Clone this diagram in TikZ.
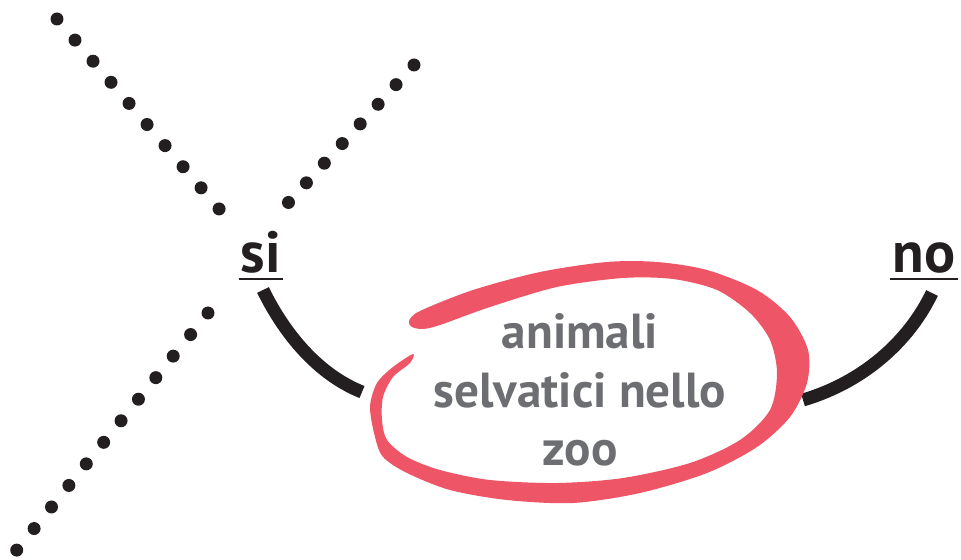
\documentclass[tikz,border=0pt]{standalone}
\usepackage{fontspec}
\setmainfont{PT Sans}
\usepackage{xcolor}
\usepackage{tikz}
\usetikzlibrary{positioning,calc}

\definecolor{zoored}{HTML}{EE5668}
\definecolor{zoogray}{HTML}{6D6E71}
\definecolor{ink}{HTML}{231F20}

\begin{document}
\begin{tikzpicture}[
    x=0.02cm, y=-0.02cm,
    dots/.style={ink, line width=0.26cm, line cap=round, dash pattern=on 0pt off #1},
    link/.style={ink, line width=0.26cm},
    answer/.style={font=\bfseries\fontsize{33}{36}\selectfont, text=ink, inner xsep=0.04cm, inner ysep=0pt, anchor=base},
    uline/.style={ink, line width=0.05cm},
    topic/.style={font=\bfseries\fontsize{28}{33.2}\selectfont, text=zoogray, align=center, inner sep=0pt}
]
\useasboundingbox (0,0) rectangle (961,560);

% Crossing out
\draw[dots=0.555cm] (57,19) -- (220,210);
\draw[dots=0.532cm] (414,65) -- (288,203);
\draw[dots=0.554cm] (208,313) -- (16,551);

% Labels
\node[answer] (si) at (261,273) {si};
\node[answer] (no) at (924,273) {no};
\draw[uline] ([yshift=-0.12cm]si.base west) -- ([yshift=-0.12cm]si.base east);
\draw[uline] ([yshift=-0.12cm]no.base west) -- ([yshift=-0.12cm]no.base east);

% Links
\coordinate (si-foot) at (263,290);
\coordinate (zoo-west) at (362,392);
\coordinate (no-foot) at (932,293);
\coordinate (zoo-east) at (803,400);
\draw[link] (si-foot) .. controls +(22,45) and +(-43,-17) .. (zoo-west);
\draw[link] (no-foot) .. controls +(-20,42) and +(67,-20) .. (zoo-east);

% Ring
\fill[zoored] plot[smooth cycle, tension=0.5] coordinates {
  (409,321) (420,311) (473,290) (540,272) (607,262) (657,262) (707,270)
  (757,290) (790,317) (808,350) (807,383) (790,417) (757,447) (707,473)
  (640,493) (573,503) (507,500) (450,490) (407,473) (383,457) (375,437)
  (370,407) (377,383) (393,367) (413,354)
  (410,363) (393,377) (383,397) (382,420) (387,440) (407,457) (440,470)
  (490,480) (557,483) (623,478) (690,463) (740,440) (770,410) (777,373)
  (770,340) (750,313) (717,290) (673,279) (623,278) (557,287) (490,307)
  (440,325) (423,329) (412,327)};
\node[topic] (zoo) at (580,390) {animali\\selvatici nello\\zoo};

\end{tikzpicture}
\end{document}
